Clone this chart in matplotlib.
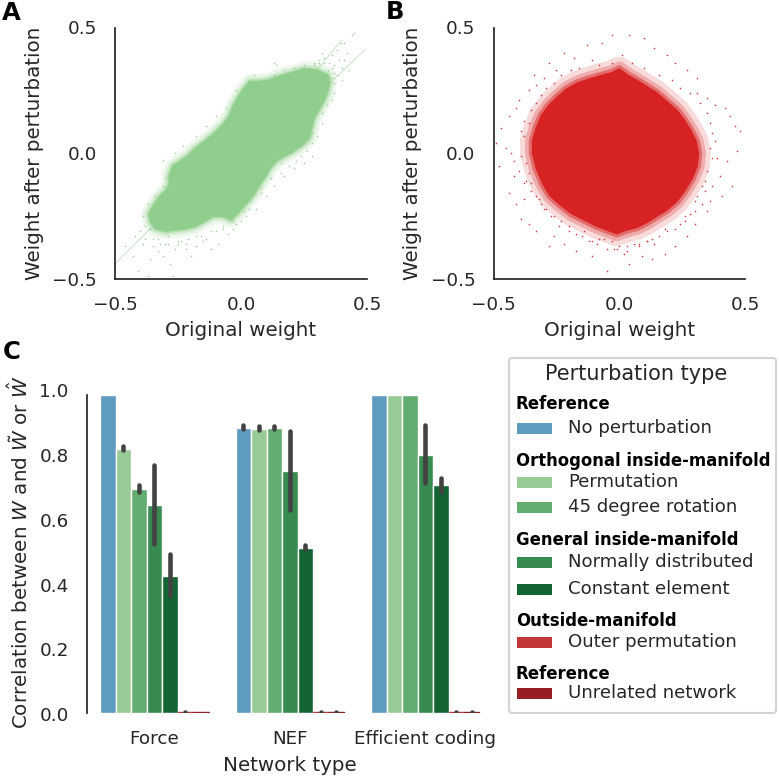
import matplotlib
matplotlib.use('Agg')
import matplotlib.pyplot as plt
from matplotlib.patches import Rectangle, FancyBboxPatch
from matplotlib.transforms import ScaledTranslation

# ---------- data ----------
# Panel A: outline of the dense cloud, stray points, streaks
a_core_x = [-0.36,-0.365,-0.345,-0.325,-0.30,-0.285,-0.285,-0.27,-0.245,-0.21,-0.18,-0.14,-0.105,-0.07,-0.045,-0.03,-0.01,0.01,0.035,0.07,0.11,0.15,0.20,0.25,0.30,0.345,0.35,0.345,0.33,0.31,0.29,0.28,0.27,0.245,0.21,0.175,0.14,0.115,0.095,0.07,0.05,0.02,-0.01,-0.04,-0.075,-0.11,-0.145,-0.18,-0.22,-0.26,-0.30,-0.34]
a_core_y = [-0.27,-0.24,-0.205,-0.175,-0.15,-0.125,-0.09,-0.05,-0.035,-0.01,0.02,0.05,0.08,0.115,0.15,0.19,0.225,0.255,0.285,0.285,0.29,0.305,0.32,0.335,0.33,0.31,0.28,0.25,0.21,0.175,0.14,0.10,0.06,0.035,0.01,-0.01,-0.03,-0.06,-0.095,-0.13,-0.165,-0.20,-0.235,-0.265,-0.25,-0.25,-0.27,-0.29,-0.30,-0.305,-0.31,-0.30]
a_stray_x = [0.36,0.395,0.45,0.44,0.41,0.38,0.33,0.31,0.29,0.27,0.35,0.37,0.39,0.42,0.40,0.38,0.36,0.34,0.37,0.40,0.43,0.345,0.32,0.28,0.25,0.21,0.17,0.13,0.10,0.06,0.02,-0.02,-0.308,-0.26,-0.23,-0.18,-0.14,-0.10,-0.06,-0.02,0.05,0.13,0.14,-0.42,-0.46,-0.43,-0.39,-0.36,-0.33,-0.30,-0.28,-0.26,-0.22,-0.20,-0.15,-0.12,-0.09,-0.36,-0.33,-0.41,-0.37,-0.27,-0.40,-0.38,-0.35,-0.31,-0.29,-0.24,-0.18,-0.05,0.35,0.33,0.37,0.41,
             0.32,0.34,0.36,0.30,0.28,0.26,0.24,0.22,0.19,0.16,0.12,0.08,0.03,0.00,-0.03,-0.07,-0.12,-0.16,-0.21,-0.25,-0.29,-0.32,-0.35,-0.38,-0.39,-0.37,-0.34,-0.31,-0.30,-0.27,-0.24,-0.20,-0.16,-0.12,-0.08,-0.04,-0.01,0.03,0.07,0.10,0.13,0.17,0.21,0.25,0.29,0.31,0.33,0.36,0.37,0.35,0.32,0.28,0.24,0.20,0.16,0.12,0.08,0.04,0.01,-0.03,-0.07,-0.25,-0.22,-0.18,-0.14,-0.10]
a_stray_y = [0.39,0.44,0.48,0.47,0.44,0.41,0.38,0.36,0.35,0.34,0.36,0.35,0.37,0.40,0.34,0.31,0.30,0.27,0.24,0.29,0.33,0.33,0.40,-0.01,-0.04,-0.06,-0.09,-0.13,-0.17,-0.22,-0.25,-0.28,-0.027,0.00,0.03,0.07,0.11,0.15,0.18,0.25,0.31,0.36,0.35,-0.33,-0.37,-0.41,-0.36,-0.42,-0.39,-0.36,-0.44,-0.38,-0.36,-0.41,-0.35,-0.38,-0.36,-0.30,-0.34,-0.47,-0.49,-0.49,-0.31,-0.34,-0.37,-0.41,-0.33,-0.35,-0.33,-0.32,0.28,0.30,0.28,0.37,
             0.12,0.19,0.21,0.07,0.04,0.01,-0.01,-0.03,-0.05,-0.08,-0.10,-0.16,-0.22,-0.27,-0.30,-0.29,-0.31,-0.33,-0.34,-0.35,-0.36,-0.36,-0.34,-0.29,-0.25,-0.20,-0.17,-0.13,-0.10,-0.06,-0.02,0.00,0.04,0.07,0.10,0.14,0.18,0.22,0.25,0.29,0.31,0.33,0.34,0.35,0.36,0.37,0.36,0.34,0.32,0.30,0.16,0.08,0.03,0.00,-0.04,-0.10,-0.14,-0.19,-0.23,-0.27,-0.30,-0.36,-0.38,-0.37,-0.34,-0.31]
a_streak1_x = [-0.50,-0.35]
a_streak1_y = [-0.44,-0.29]
a_streak2_x = [0.27,0.49]
a_streak2_y = [0.20,0.41]
a_streak3_x = [0.25,0.40]
a_streak3_y = [0.27,0.45]

# Panel B
b_core_x = [-0.345,-0.345,-0.33,-0.31,-0.28,-0.245,-0.21,-0.165,-0.12,-0.07,-0.03,0.00,0.035,0.07,0.11,0.15,0.19,0.23,0.26,0.285,0.305,0.315,0.31,0.29,0.26,0.23,0.19,0.15,0.11,0.07,0.03,-0.01,-0.05,-0.09,-0.14,-0.19,-0.235,-0.275,-0.305,-0.33]
b_core_y = [0.00,0.05,0.10,0.15,0.19,0.225,0.255,0.28,0.295,0.31,0.32,0.335,0.31,0.29,0.265,0.24,0.205,0.17,0.13,0.09,0.05,0.00,-0.05,-0.10,-0.15,-0.19,-0.225,-0.25,-0.275,-0.295,-0.305,-0.32,-0.305,-0.29,-0.265,-0.24,-0.205,-0.17,-0.12,-0.06]
b_stray_x = [-0.49,-0.48,-0.47,-0.44,-0.43,-0.42,-0.41,-0.40,-0.39,-0.44,-0.41,-0.38,-0.45,-0.42,-0.39,-0.36,-0.33,-0.34,-0.30,-0.28,-0.25,-0.22,-0.18,-0.13,-0.07,-0.03,0.04,0.10,0.14,0.19,0.22,0.27,0.31,0.35,0.38,0.42,0.44,0.46,0.48,0.47,0.43,0.40,0.37,0.39,0.45,0.41,0.35,0.30,0.27,0.22,0.18,0.13,0.09,0.04,-0.01,-0.05,-0.11,-0.17,-0.22,-0.28,-0.33,-0.36,-0.40,-0.38,0.02,0.11,-0.09,-0.26,0.31,0.36,
             -0.38,-0.37,-0.39,-0.36,-0.38,-0.37,-0.35,-0.33,-0.35,-0.31,-0.32,-0.29,-0.30,-0.26,-0.27,-0.23,-0.24,-0.19,-0.20,-0.16,-0.15,-0.11,-0.12,-0.08,-0.06,-0.03,-0.02,0.01,0.03,0.05,0.08,0.10,0.13,0.16,0.18,0.21,0.24,0.26,0.28,0.30,0.32,0.33,0.35,0.36,0.34,0.37,0.38,0.36,0.37,0.35,0.34,0.33,0.31,0.30,0.28,0.26,0.24,0.22,0.19,0.16,0.14,0.11,0.08,0.06,0.03,0.00,-0.03,-0.05,-0.08,-0.11,-0.14,-0.17,-0.20,-0.23,-0.26,-0.29,-0.31,-0.33,-0.35,-0.36]
b_stray_y = [0.04,-0.05,0.10,0.15,0.00,-0.09,-0.20,0.21,0.09,-0.16,0.18,-0.12,0.02,-0.03,-0.26,0.25,0.27,0.31,0.30,0.36,0.33,0.40,0.38,0.43,0.44,0.47,0.47,0.46,0.42,0.39,0.36,0.33,0.30,0.22,0.19,0.18,0.15,0.11,0.09,0.01,-0.03,-0.09,-0.13,-0.02,-0.13,-0.17,-0.23,-0.28,-0.33,-0.37,-0.40,-0.42,-0.41,-0.44,-0.38,-0.47,-0.41,-0.39,-0.36,-0.37,-0.31,-0.28,-0.07,-0.18,-0.40,-0.35,-0.36,-0.33,0.24,-0.19,
             0.07,-0.04,-0.01,0.12,0.13,-0.11,0.17,0.20,-0.15,0.23,-0.18,0.26,-0.22,0.28,-0.25,0.31,-0.29,0.33,-0.31,0.34,-0.33,0.37,-0.35,0.35,-0.34,0.36,-0.38,0.39,-0.37,0.36,-0.36,0.34,-0.34,0.31,-0.30,0.29,0.26,-0.27,0.24,-0.23,0.20,-0.20,0.16,0.12,-0.15,0.08,0.05,0.02,-0.02,-0.07,-0.11,-0.13,-0.17,-0.19,-0.24,-0.25,-0.28,-0.30,-0.31,-0.33,-0.36,-0.35,-0.37,-0.36,-0.39,-0.37,-0.35,-0.38,-0.34,-0.35,-0.31,-0.32,-0.29,-0.27,-0.25,-0.22,-0.20,-0.17,-0.12,-0.08]

# Panel C
network_types = ['Force', 'NEF', 'Efficient coding']
perturbation_types = ['No perturbation', 'Permutation', '45 degree rotation',
                      'Normally distributed', 'Constant element',
                      'Outer permutation', 'Unrelated network']
bar_force     = [1.0, 0.83, 0.704, 0.654, 0.432, 0.002, 0.002]
bar_nef       = [0.897, 0.894, 0.895, 0.76, 0.519, 0.002, 0.002]
bar_efficient = [1.0, 1.0, 1.0, 0.811, 0.716, 0.002, 0.002]
lo_force      = [1.0, 0.827, 0.696, 0.532, 0.369, 0.0, 0.0]
hi_force      = [1.0, 0.839, 0.717, 0.781, 0.50, 0.003, 0.001]
lo_nef        = [0.894, 0.889, 0.893, 0.638, 0.516, 0.0, 0.0]
hi_nef        = [0.907, 0.904, 0.903, 0.886, 0.528, 0.004, 0.004]
lo_efficient  = [1.0, 1.0, 1.0, 0.724, 0.695, 0.0, 0.0]
hi_efficient  = [1.0, 1.0, 1.0, 0.905, 0.74, 0.004, 0.004]
bar_colors = ['#5f9abf', '#98cb96', '#62ac70', '#378a50', '#126432', '#c43737', '#961e23']
legend_groups = ['Reference', 'Orthogonal inside-manifold', 'General inside-manifold',
                 'Outside-manifold', 'Reference']

# ---------- layout helpers ----------
W = H = 779
DARK = '#262626'
plt.rcParams['font.family'] = 'DejaVu Sans'
plt.rcParams['mathtext.fontset'] = 'dejavusans'
TICK = 13.2
LAB = 14.3

fig = plt.figure(figsize=(W/100, H/100), dpi=100, facecolor='white')

def axes_px(l, r, t, b):
    return fig.add_axes([l/W, 1-b/H, (r-l)/W, (b-t)/H])

def style(ax):
    for s in ['top', 'right']:
        ax.spines[s].set_visible(False)
    for s in ['left', 'bottom']:
        ax.spines[s].set_linewidth(1.25)
        ax.spines[s].set_color(DARK)
    ax.tick_params(length=0, labelsize=TICK, labelcolor=DARK)

def scatter_panel(l, r, color, cx, cy, sx, sy, halo):
    ax = axes_px(l, r, 27.5, 279)
    style(ax)
    ax.set_xlim(-0.5, 0.5)
    ax.set_ylim(-0.5, 0.5)
    ax.set_xticks([-0.5, 0.0, 0.5], ['\u22120.5', '0.0', '0.5'])
    ax.set_yticks([-0.5, 0.0, 0.5], ['\u22120.5', '0.0', '0.5'])
    ax.tick_params(axis='x', pad=12)
    ax.tick_params(axis='y', pad=13)
    # soft fringe of the dense cloud: same outline stroked with decreasing opacity
    ax.fill(cx, cy, fc='none', ec=color, lw=halo, alpha=0.16, joinstyle='round')
    ax.fill(cx, cy, fc='none', ec=color, lw=halo*0.6, alpha=0.25, joinstyle='round')
    ax.fill(cx, cy, fc='none', ec=color, lw=halo*0.3, alpha=0.45, joinstyle='round')
    ax.fill(cx, cy, fc=color, ec=color, lw=1.0, joinstyle='round')
    ax.scatter(sx, sy, s=1.3, color=color, lw=0, alpha=0.9, clip_on=False)
    ax.set_xlabel('Original weight', fontsize=LAB, color=DARK, labelpad=5)
    ax.set_ylabel('Weight after perturbation', fontsize=LAB, color=DARK, labelpad=6)
    return ax

ax_a = scatter_panel(115, 367, '#8fce8c', a_core_x, a_core_y, a_stray_x, a_stray_y, 11)
for sx_, sy_ in [(a_streak1_x, a_streak1_y), (a_streak2_x, a_streak2_y), (a_streak3_x, a_streak3_y)]:
    ax_a.plot(sx_, sy_, color='#8fce8c', lw=0.5, alpha=0.7)
ax_b = scatter_panel(493.5, 745, '#d62222', b_core_x, b_core_y, b_stray_x, b_stray_y, 18)

# Panel C
ax_c = axes_px(86.7, 493, 395, 713)
style(ax_c)
ax_c.spines['bottom'].set_visible(False)
ax_c.set_xlim(-0.5, 2.5)
ax_c.set_ylim(0, 1)
n = len(perturbation_types)
bw = 0.8 / n
groups = [(bar_force, lo_force, hi_force), (bar_nef, lo_nef, hi_nef), (bar_efficient, lo_efficient, hi_efficient)]
for g, (vals, los, his) in enumerate(groups):
    for i in range(n):
        xc = g + (i - (n-1)/2) * bw
        ec = 'white' if vals[i] > 0.01 else bar_colors[i]
        ax_c.bar(xc, vals[i], width=bw, color=bar_colors[i], edgecolor=ec, linewidth=1.0)
        if his[i] > los[i]:
            ax_c.plot([xc, xc], [los[i], his[i]], color='#424242', lw=3.3, solid_capstyle='round')
ax_c.set_xticks(range(3), network_types)
ax_c.set_yticks([0, 0.2, 0.4, 0.6, 0.8, 1.0], ['0.0', '0.2', '0.4', '0.6', '0.8', '1.0'])
ax_c.tick_params(axis='x', pad=12.5)
ax_c.tick_params(axis='y', pad=13)
# the printed tick labels sit slightly off the bar scale in the reference
for lab, dy in zip(ax_c.get_yticklabels(), [-1, 0, 1, 2.5, 3.5, 5]):
    lab.set_transform(lab.get_transform() + ScaledTranslation(0, dy/100, fig.dpi_scale_trans))
ax_c.set_xlabel('Network type', fontsize=LAB, color=DARK, labelpad=5.5)
ax_c.set_ylabel(r'Correlation between $W$ and $\tilde{W}$ or $\hat{W}$', fontsize=LAB, color=DARK)
ax_c.yaxis.set_label_coords(-0.135, 0.505)

# Pixel overlay: panel letters and legend
ov = fig.add_axes([0, 0, 1, 1], zorder=5)
ov.set_xlim(0, W)
ov.set_ylim(H, 0)
ov.axis('off')
ov.patch.set_alpha(0)
for s, x, y in [('A', 2, 13), ('B', 386, 12), ('C', 3, 352)]:
    ov.text(x, y, s, fontsize=17.5, fontweight='bold', color='black', ha='left', va='center')

ov.add_patch(FancyBboxPatch((511, 360), 263, 351, boxstyle='round,pad=2,rounding_size=3',
                            fc='white', ec='#d4d4d4', lw=1.5))
ov.text(636, 374, 'Perturbation type', fontsize=15, color=DARK, ha='center', va='center')
head_y = [404, 461, 540, 621, 674]
for s, y in zip(legend_groups, head_y):
    ov.text(516, y, s, fontsize=11.9, fontweight='bold', color='black', ha='left', va='center')
item_y = [428, 482, 507, 562, 589, 642, 693]
for s, c, y in zip(perturbation_types, bar_colors, item_y):
    ov.add_patch(Rectangle((517, y-5.5), 35, 11, fc=c, ec='none'))
    ov.text(568, y, s, fontsize=13.05, color=DARK, ha='left', va='center')

fig.savefig('out.png', dpi=100, facecolor='white')
